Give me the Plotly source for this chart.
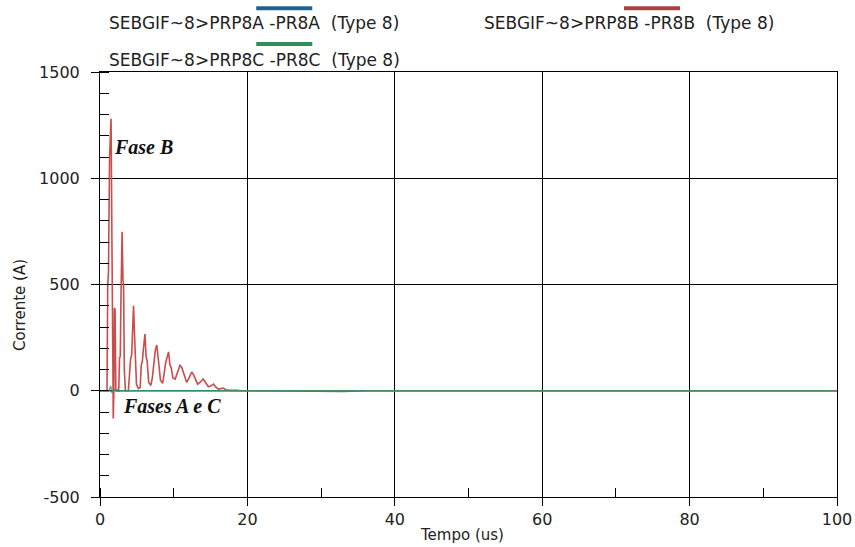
import plotly.graph_objects as go

# ---------------- data ----------------
series_names = [
    "SEBGIF~8>PRP8A -PR8A  (Type 8)",
    "SEBGIF~8>PRP8B -PR8B  (Type 8)",
    "SEBGIF~8>PRP8C -PR8C  (Type 8)",
]
series_colors = ["#2b78a8", "#cc4c4c", "#2e9a62"]
legend_colors = ["#1f6390", "#a8423e", "#2e8f5c"]

# Phase A (near zero)
t_a = [0, 1.3, 1.6, 1.9, 2.3, 3.0, 20.0, 27.0, 29.0, 33.0, 36.0, 100]
i_a = [0, 0, -6, 4, -2, 0, 0, -4, -5, -4, 0, 0]

# Phase B (damped oscillation)
t_b = [0, 0.95, 1.05, 1.15, 1.3, 1.5, 1.62, 1.7, 1.8, 1.88, 1.95, 2.05, 2.15, 2.3,
       2.55, 2.65, 2.75, 2.85, 3.0, 3.12, 3.2, 3.3, 3.45, 3.85, 4.05, 4.15, 4.3,
       4.42, 4.55, 4.7, 4.8, 4.95, 5.2, 5.45, 5.6, 5.75, 5.9, 6.1, 6.25, 6.4, 6.6,
       6.9, 7.1, 7.3, 7.5, 7.7, 7.85, 8.0, 8.2, 8.5, 8.7, 8.9, 9.3, 9.5, 9.65, 9.9,
       10.2, 10.5, 10.85, 11.1, 11.3, 11.75, 12.0, 12.45, 12.7, 13.25, 13.6, 14.0,
       14.3, 14.7, 15.0, 15.4, 15.7, 16.05, 16.4, 16.7, 17.1, 17.6, 18.6, 19.2, 100]
i_b = [0, 0, 500, 560, 1100, 1280, 700, 200, -130, 0, 390, 380, 0, 0,
       10, 155, 160, 450, 748, 520, 500, 100, 0, 0, 100, 150, 170,
       300, 400, 250, 180, 30, 10, 15, 120, 140, 200, 267, 160, 140, 40,
       25, 60, 140, 190, 215, 150, 120, 50, 35, 80, 130, 183, 120, 110, 60,
       55, 90, 120, 110, 85, 40, 55, 88, 75, 31, 40, 55,
       40, 19, 22, 31, 18, 8, 10, 13, 5, 2, 2, 0, 0]

# Phase C (near zero)
t_c = [0, 1.2, 1.45, 1.65, 1.9, 2.4, 3.0, 100]
i_c = [0, 0, 22, -8, 6, -2, 0, 0]

x_ticks = [0, 20, 40, 60, 80, 100]
x_ticklabels = ["0", "20", "40", "60", "80", "100"]
y_ticks = [-500, 0, 500, 1000, 1500]
y_ticklabels = ["-500", "0", "500", "1000", "1500"]
x_title = "Tempo (us)"
y_title = "Corrente (A)"
note_b = "Fase B"
note_ac = "Fases A e C"

FONT = "DejaVu Sans"
TXT = "#222"

fig = go.Figure()
fig.add_trace(go.Scatter(x=t_a, y=i_a, mode="lines", name=series_names[0],
                         line=dict(color=series_colors[0], width=1.3), showlegend=False))
fig.add_trace(go.Scatter(x=t_b, y=i_b, mode="lines", name=series_names[1],
                         line=dict(color=series_colors[1], width=1.6), showlegend=False))
fig.add_trace(go.Scatter(x=t_c, y=i_c, mode="lines", name=series_names[2],
                         line=dict(color=series_colors[2], width=1.3), opacity=0.8,
                         showlegend=False))

# ---- custom legend (swatch above text, as in the reference) ----
legend_pos = [  # (text_x, text_y, swatch_x0, swatch_x1, swatch_y) in paper coords
    (0.0095, 1.115, 0.212, 0.288, 1.150),
    (0.518, 1.115, 0.711, 0.787, 1.150),
    (0.0095, 1.028, 0.212, 0.288, 1.066),
]
for name, col, (tx, ty, sx0, sx1, sy) in zip(series_names, legend_colors, legend_pos):
    fig.add_annotation(x=tx, y=ty, xref="paper", yref="paper", text=name,
                       showarrow=False, xanchor="left", yanchor="middle",
                       font=dict(family=FONT, size=17, color=TXT))
    fig.add_shape(type="line", xref="paper", yref="paper", x0=sx0, x1=sx1, y0=sy, y1=sy,
                  line=dict(color=col, width=4))

# ---- axis titles ----
fig.add_annotation(x=0.491, y=-0.089, xref="paper", yref="paper", text=x_title,
                   showarrow=False, xanchor="center", yanchor="middle",
                   font=dict(family=FONT, size=15, color=TXT))
fig.add_annotation(x=-0.1085, y=0.452, xref="paper", yref="paper", text=y_title,
                   showarrow=False, xanchor="center", yanchor="middle", textangle=-90,
                   font=dict(family=FONT, size=15, color=TXT))

# ---- in-plot notes ----
fig.add_annotation(x=1.6, y=1145, text="<b><i>" + note_b + "</i></b>", showarrow=False,
                   xanchor="left", yanchor="middle",
                   font=dict(family="Liberation Serif", size=20, color="#111"))
fig.add_annotation(x=2.9, y=-70, text="<b><i>" + note_ac + "</i></b>", showarrow=False,
                   xanchor="left", yanchor="middle",
                   font=dict(family="Liberation Serif", size=20, color="#111"))

axis_common = dict(
    showline=True, linecolor="black", linewidth=1, mirror=True,
    showgrid=True, gridcolor="black", gridwidth=1, zeroline=False,
    ticks="outside", ticklen=8, tickcolor="black", tickwidth=1,
    tickfont=dict(family=FONT, size=16, color=TXT), automargin=False,
)
fig.update_xaxes(range=[0, 100], tickvals=x_ticks, ticktext=x_ticklabels,
                 minor=dict(ticks="inside", dtick=10, tick0=0, ticklen=9, tickcolor="black",
                            showgrid=False),
                 **axis_common)
fig.update_yaxes(range=[-500, 1500], tickvals=y_ticks, ticktext=y_ticklabels,
                 ticklabelstandoff=8,
                 minor=dict(ticks="inside", dtick=100, tick0=0, ticklen=9, tickcolor="black",
                            showgrid=False),
                 **axis_common)

fig.update_layout(
    width=855, height=547,
    margin=dict(l=100, r=18, t=72, b=50, autoexpand=False),
    plot_bgcolor="white", paper_bgcolor="white",
    showlegend=False,
)

# remove the browser's default 8px body margin so the figure fills the window
fig.write_html("out.html", config={"displayModeBar": False},
               post_script="document.body.style.margin='0px';document.body.style.overflow='hidden';")
